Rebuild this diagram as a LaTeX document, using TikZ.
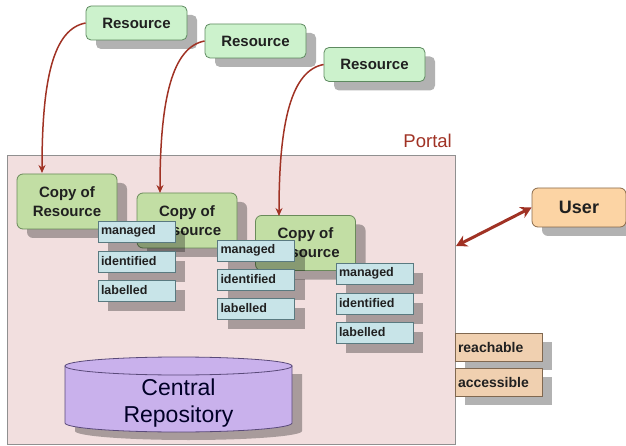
\documentclass[tikz,border=0pt]{standalone}
\usepackage{fontspec}
\setmainfont{Liberation Sans}
\usetikzlibrary{shadows,arrows.meta}
\definecolor{resfill}{HTML}{CCF2CC}
\definecolor{resdraw}{HTML}{5E8A60}
\definecolor{copyfill}{HTML}{C2DEA4}
\definecolor{copydraw}{HTML}{6A8A5A}
\definecolor{tagfill}{HTML}{C8E4E8}
\definecolor{tagdraw}{HTML}{5A7A80}
\definecolor{userfill}{HTML}{FCD4A4}
\definecolor{userdraw}{HTML}{8A6A4A}
\definecolor{propfill}{HTML}{F0D0B0}
\definecolor{propdraw}{HTML}{806850}
\definecolor{portfill}{HTML}{F2DFDF}
\definecolor{portdraw}{HTML}{909090}
\definecolor{cylfill}{HTML}{C9B1EC}
\definecolor{cyldraw}{HTML}{5A4A7A}
\definecolor{arrcol}{HTML}{A03224}
\definecolor{txt}{HTML}{202020}
\tikzset{
  shd/.style={drop shadow={shadow xshift=10pt,shadow yshift=-9pt,fill=black,opacity=.3}},
  resbox/.style={shd,draw=resdraw,fill=resfill,rounded corners=5pt,line width=0.8pt,
    minimum width=101pt,minimum height=34pt,inner sep=0pt,text=txt,
    font=\fontsize{15}{18}\selectfont\bfseries},
  copybox/.style={shd,draw=copydraw,fill=copyfill,rounded corners=6pt,line width=0.8pt,
    minimum width=100pt,minimum height=55pt,inner sep=0pt,text=txt,align=center,
    font=\fontsize{15}{19}\selectfont\bfseries},
  tagbox/.style={drop shadow={shadow xshift=10pt,shadow yshift=-10pt,fill=black,opacity=.3},
    draw=tagdraw,fill=tagfill,line width=0.7pt,text width=71pt,inner xsep=3pt,inner ysep=0pt,
    minimum height=21pt,align=left,text=txt,font=\fontsize{12.5}{14}\selectfont\bfseries},
  propbox/.style={shd,draw=propdraw,fill=propfill,line width=0.7pt,text width=81pt,inner xsep=3pt,
    inner ysep=0pt,minimum height=28pt,align=left,text=txt,font=\fontsize{14}{16}\selectfont\bfseries},
  userbox/.style={shd,draw=userdraw,fill=userfill,rounded corners=6pt,line width=0.8pt,
    minimum width=94pt,minimum height=39pt,inner sep=0pt,text=txt,
    font=\fontsize{18}{20}\selectfont\bfseries},
  link/.style={draw=arrcol,line width=1.5pt,-{Stealth[length=8pt,width=7pt]}},
}
\begin{document}
\begin{tikzpicture}[x=1pt,y=-1pt]
\useasboundingbox (0,0) rectangle (626,446);
% portal
\node[draw=portdraw,fill=portfill,line width=0.8pt,minimum width=448pt,minimum height=289pt,inner sep=0pt] (portal) at (231,299.5) {};
\node[text=arrcol,font=\fontsize{18.5}{20}\selectfont,anchor=south east,inner sep=0pt] (plabel) at (452,148) {Portal};
% resources
\node[resbox] (r1) at (136.5,23) {Resource};
\node[resbox] (r2) at (255.5,41) {Resource};
\node[resbox] (r3) at (374.5,64.5) {Resource};
% copies
\node[copybox] (c1) at (67,201.5) {Copy of\\Resource};
\node[copybox] (c2) at (187,220.5) {Copy of\\Resource};
\node[copybox] (c3) at (305.5,243) {Copy of\\Resource};
% tags
\node[tagbox] (m1) at (136.5,231.5) {managed};
\node[tagbox] (i1) at (136.5,261.5) {identified};
\node[tagbox] (l1) at (136.5,290.5) {labelled};
\node[tagbox] (m2) at (256,250.5) {managed};
\node[tagbox] (i2) at (256,279.5) {identified};
\node[tagbox] (l2) at (256,308.5) {labelled};
\node[tagbox] (m3) at (374.5,273.5) {managed};
\node[tagbox] (i3) at (374.5,303.5) {identified};
\node[tagbox] (l3) at (374.5,332.5) {labelled};
% arrows resource -> copy
\coordinate (t1) at (42,173);
\coordinate (t2) at (160,193);
\coordinate (t3) at (279,216);
\draw[link] (r1.west) .. controls +(-32,6) and +(0,-95) .. (t1);
\draw[link] (r2.west) .. controls +(-32,6) and +(0,-95) .. (t2);
\draw[link] (r3.west) .. controls +(-32,6) and +(0,-95) .. (t3);
% user
\node[userbox] (user) at (579,207.5) {User};
\coordinate (pe) at (456,246);
\draw[draw=arrcol,line width=3pt,{Stealth[length=11pt,width=12pt]}-{Stealth[length=11pt,width=12pt]}] (pe) -- (user.west);
% properties
\node[propbox] (reach) at (498.5,347) {reachable};
\node[propbox] (acc) at (498.5,382) {accessible};
% cylinder
\fill[black,opacity=.3] (75,374) -- (75,431) .. controls (75,436) and (125.8,440) .. (188.5,440)
  .. controls (251.2,440) and (302,436) .. (302,431) -- (302,374) -- cycle;
\draw[draw=cyldraw,fill=cylfill,line width=0.8pt] (65,366) -- (65,423) .. controls (65,428) and (115.8,432) .. (178.5,432)
  .. controls (241.2,432) and (292,428) .. (292,423) -- (292,366) -- cycle;
\draw[draw=cyldraw,fill=cylfill,line width=0.8pt] (178.5,366) ellipse [x radius=113.5pt, y radius=9pt];
\node[align=center,text=black!75!blue!60!black,font=\fontsize{23}{27}\selectfont,inner sep=0pt] (repo) at (178.5,403) {Central\\Repository};
\end{tikzpicture}
\end{document}
